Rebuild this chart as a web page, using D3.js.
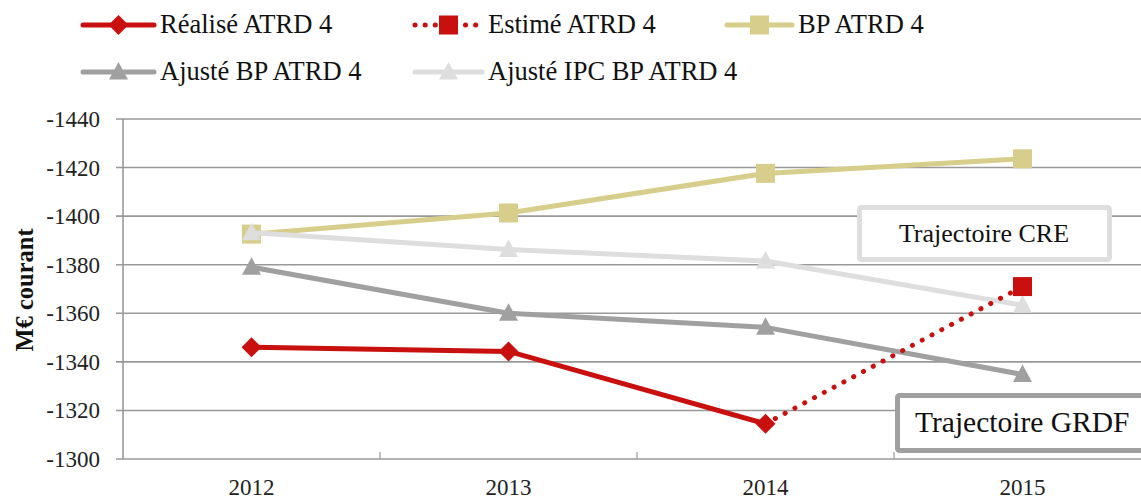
<!DOCTYPE html>
<html>
<head>
<meta charset="utf-8">
<script src="https://cdn.jsdelivr.net/npm/d3@7"></script>
<style>
  body { margin: 0; background: #fff; }
  text { font-family: "Liberation Serif", "Times New Roman", "DejaVu Serif", serif; }
</style>
</head>
<body>
<svg id="chart"></svg>
<script>
// données
const years = ['2012', '2013', '2014', '2015'];
const realise = [-1346, -1344.3, -1314.5, null];
const estime = [null, null, -1314.5, -1371];
const bp = [-1392.6, -1401.3, -1417.6, -1423.6];
const ajusteBP = [-1379, -1360, -1354.2, -1334.8];
const ajusteIPC = [-1393.2, -1386.3, -1381.5, -1363.3];
const yTicks = [-1440, -1420, -1400, -1380, -1360, -1340, -1320, -1300];

const width = 1141;
const height = 501;
const svg = d3.select('#chart').attr('width', width).attr('height', height)
  .style('display', 'block');

const plotLeft = 123, plotRight = 1151, plotTop = 119, plotBottom = 459;

const x = d3.scaleBand().domain(years).range([plotLeft, plotRight]);
// axe inversé : -1440 en haut
const y = d3.scaleLinear().domain([-1300, -1440]).range([plotBottom, plotTop]);

const series = [
  { name: 'Réalisé ATRD 4', values: realise, color: '#C8100F', marker: 'diamond', dotted: false },
  { name: 'Estimé ATRD 4', values: estime, color: '#C8100F', marker: 'square', dotted: true },
  { name: 'BP ATRD 4', values: bp, color: '#D6CE8A', marker: 'square', dotted: false },
  { name: 'Ajusté BP ATRD 4', values: ajusteBP, color: '#A0A0A0', marker: 'triangle', dotted: false },
  { name: 'Ajusté IPC BP ATRD 4', values: ajusteIPC, color: '#DEDEDE', marker: 'triangle', dotted: false }
];

function markerPath(type) {
  if (type === 'diamond') return 'M0,-10L10,0L0,10L-10,0Z';
  if (type === 'square') return 'M-9.5,-9.5L9.5,-9.5L9.5,9.5L-9.5,9.5Z';
  return 'M0,-10L9.5,7.5L-9.5,7.5Z';
}

// grille
svg.append('g')
  .selectAll('line')
  .data(yTicks)
  .enter()
  .append('line')
  .attr('x1', plotLeft - 7)
  .attr('x2', plotRight)
  .attr('y1', (d) => y(d))
  .attr('y2', (d) => y(d))
  .attr('stroke', '#999')
  .attr('stroke-width', 1.6);

// axe vertical
svg.append('line')
  .attr('x1', plotLeft).attr('x2', plotLeft)
  .attr('y1', plotTop).attr('y2', plotBottom)
  .attr('stroke', '#999').attr('stroke-width', 1.6);

// graduations de l'axe x
svg.append('g')
  .selectAll('line')
  .data(years.slice(1))
  .enter()
  .append('line')
  .attr('x1', (d) => x(d))
  .attr('x2', (d) => x(d))
  .attr('y1', plotBottom - 7)
  .attr('y2', plotBottom)
  .attr('stroke', '#999')
  .attr('stroke-width', 1.2);

// libellés
svg.append('g')
  .selectAll('text')
  .data(yTicks)
  .enter()
  .append('text')
  .attr('x', 100)
  .attr('y', (d) => y(d) + 8)
  .attr('text-anchor', 'end')
  .attr('font-size', 23)
  .attr('fill', '#222')
  .text((d) => d);

svg.append('g')
  .selectAll('text')
  .data(years)
  .enter()
  .append('text')
  .attr('x', (d) => x(d) + x.bandwidth() / 2)
  .attr('y', 495)
  .attr('text-anchor', 'middle')
  .attr('font-size', 23)
  .attr('fill', '#222')
  .text((d) => d);

svg.append('text')
  .attr('transform', 'translate(33,290) rotate(-90)')
  .attr('text-anchor', 'middle')
  .attr('font-size', 24.5)
  .attr('font-weight', 'bold')
  .attr('fill', '#111')
  .text('M€ courant');

// courbes
const line = d3.line()
  .defined((d) => d.v !== null)
  .x((d) => x(d.year) + x.bandwidth() / 2)
  .y((d) => y(d.v));

const drawOrder = [2, 3, 4, 0, 1];
drawOrder.forEach((i) => {
  const s = series[i];
  const pts = years.map((yr, j) => ({ year: yr, v: s.values[j] }));
  const g = svg.append('g');
  g.append('path')
    .attr('d', line(pts))
    .attr('fill', 'none')
    .attr('stroke', s.color)
    .attr('stroke-width', 5)
    .attr('stroke-linecap', s.dotted ? 'round' : 'butt')
    .attr('stroke-linejoin', 'round')
    .attr('stroke-dasharray', s.dotted ? '0.1 11' : null);
  g.selectAll('path.m')
    .data(pts.filter((d) => d.v !== null && !(s.dotted && d.year === '2014')))
    .enter()
    .append('path')
    .attr('class', 'm')
    .attr('d', markerPath(s.marker))
    .attr('transform', (d) => `translate(${x(d.year) + x.bandwidth() / 2},${y(d.v)})`)
    .attr('fill', s.color);
});

// encadrés
const cre = svg.append('g');
cre.append('rect')
  .attr('x', 859.5).attr('y', 207.5)
  .attr('width', 250).attr('height', 52)
  .attr('rx', 2)
  .attr('fill', '#fff')
  .attr('stroke', '#DEDEDE')
  .attr('stroke-width', 5);
cre.append('text')
  .attr('x', 984).attr('y', 242)
  .attr('text-anchor', 'middle')
  .attr('font-size', 26)
  .attr('fill', '#111')
  .text('Trajectoire CRE');

const grdf = svg.append('g');
grdf.append('rect')
  .attr('x', 897.5).attr('y', 395.5)
  .attr('width', 260).attr('height', 55)
  .attr('rx', 2)
  .attr('fill', '#fff')
  .attr('stroke', '#A0A0A0')
  .attr('stroke-width', 5);
grdf.append('text')
  .attr('x', 915).attr('y', 432)
  .attr('font-size', 29.5)
  .attr('fill', '#111')
  .text('Trajectoire GRDF');

// légende
const legendPos = [
  { x: 83, y: 25, tx: 160 },
  { x: 415, y: 25, tx: 488 },
  { x: 727, y: 25, tx: 798 },
  { x: 83, y: 72, tx: 160 },
  { x: 415, y: 72, tx: 488 }
];

series.forEach((s, i) => {
  const p = legendPos[i];
  const g = svg.append('g');
  const x2 = p.tx - 6;
  g.append('line')
    .attr('x1', p.x).attr('x2', x2)
    .attr('y1', p.y).attr('y2', p.y)
    .attr('stroke', s.color)
    .attr('stroke-width', 5)
    .attr('stroke-linecap', 'round')
    .attr('stroke-dasharray', s.dotted ? '0.1 10' : null);
  g.append('path')
    .attr('d', markerPath(s.marker))
    .attr('transform', `translate(${(p.x + x2) / 2},${p.y})`)
    .attr('fill', s.color);
  g.append('text')
    .attr('x', p.tx)
    .attr('y', p.y + 8)
    .attr('font-size', 26.5)
    .attr('fill', '#111')
    .text(s.name);
});
</script>
</body>
</html>
